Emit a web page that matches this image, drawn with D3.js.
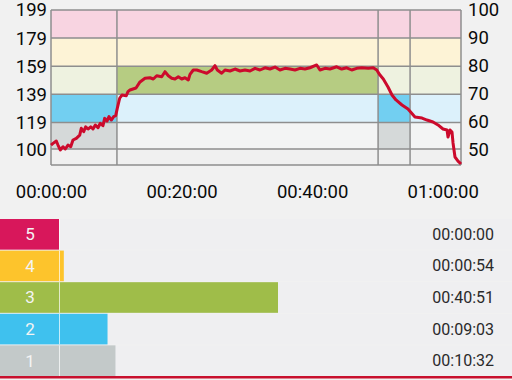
<!DOCTYPE html>
<html><head><meta charset="utf-8">
<script src="https://cdn.jsdelivr.net/npm/d3@7"></script>
<style>html,body{margin:0;padding:0;background:#f1f1f1;}svg{display:block;font-family:Roboto,sans-serif;}</style>
</head><body><svg id="c" width="512" height="380"></svg>
<script>
// Heart rate series: minutes and bpm
const hrTime = [0,0.31,0.81,1.07,1.42,1.84,2.19,2.6,3.02,3.37,3.88,4.4,4.64,5.01,5.31,5.67,6.08,6.43,6.79,7.2,7.55,7.96,8.22,8.58,8.88,9.24,9.6,9.91,10.15,10.52,10.87,11.53,11.79,12.1,13.02,13.63,14.4,15.16,15.67,16.19,16.96,17.46,17.97,18.49,18.99,19.5,20.02,20.52,21.03,21.29,21.79,22.32,23.08,23.85,24.61,25.12,25.47,26.14,26.65,27.42,28.18,28.95,29.71,30.48,31.25,32.01,32.78,33.54,34.31,35.07,35.84,36.61,37.37,38.14,38.9,39.67,40.7,41.2,41.97,42.73,43.76,44.52,45.29,46.06,46.82,47.59,48.6,49.36,49.89,50.39,50.9,51.62,52.23,52.84,53.76,54.68,55.75,56.83,57.59,58.51,59.28,60.04,60.66,60.81,61.12,61.42,61.58,61.88,62.34,62.8];
const hrValue = [102.9,104.1,105.8,102.9,99.4,101.7,100.1,102.9,101.7,106.5,107.7,110.0,114.8,112.4,115.9,114.3,115.9,114.3,117.2,115.2,118.4,116.7,121.9,120.0,123.1,120.7,123.1,123.8,129.0,136.2,138.5,138.0,140.9,142.1,143.5,147.8,150.4,150.8,149.9,152.2,151.5,155.1,152.2,150.4,149.9,151.5,149.9,150.8,149.2,153.2,156.3,156.3,155.1,154.0,156.3,159.4,156.3,154.0,156.3,155.6,157.0,155.6,156.3,155.6,157.5,156.3,157.9,157.0,158.4,156.3,157.5,157.0,156.3,157.5,157.0,157.9,159.9,156.3,157.5,157.0,158.6,157.0,157.9,156.3,157.5,157.9,157.5,157.9,156.3,152.7,149.9,144.2,138.5,135.0,131.4,128.5,122.9,122.1,120.7,119.3,117.2,114.3,113.6,108.6,113.6,112.2,104.4,94.4,91.5,89.4];

// Zone boundaries (bpm) and tick labels
const zoneBounds = [88.7,100,119,139,159,179,199];
const leftTicks = [100,119,139,159,179,199];
const rightTicks = [50,60,70,80,90,100];
const maxHR = 199;
// Segment (lap) boundaries in minutes
const segBounds = [0,10.1,50.1,55.0,62.8];
// highlighted zones per segment (zone index 1..5)
const segZones = [[1,2],[3],[1,2],[]];
const xTicks = [0,20,40,60];

// Zone summary
const zoneNames = ["5","4","3","2","1"];
const zoneSeconds = [0,54,2451,543,632];
const zoneLabels = ["00:00:00","00:00:54","00:40:51","00:09:03","00:10:32"];

const lightCol = ["#f0f0f0","#f3f4f4","#dcf1fb","#eef2e0","#fdf3d6","#f8d4e1"];
const strongCol = ["#f0f0f0","#d5d9d9","#72cff1","#b6cc82","#fcc42d","#d81b5c"];
const barCol = {"5":"#d8175b","4":"#fdc42c","3":"#9fbd49","2":"#3fc1ee","1":"#c3c9c9"};

const svg = d3.select("#c");
const x = d3.scaleLinear().domain([0,62.8]).range([51,461]);
const y = d3.scaleLinear().domain([88.7,199]).range([165,10]);
const yPct = d3.scaleLinear().domain([88.7/maxHR*100,100]).range([165,10]);

// zone cells
const cells = [];
for (let s=0;s<segBounds.length-1;s++){
  for (let z=0;z<zoneBounds.length-1;z++){
    cells.push({s,z,on:segZones[s].includes(z)});
  }
}
svg.append("g").selectAll("rect").data(cells).join("rect")
  .attr("x",d=>x(segBounds[d.s])).attr("width",d=>x(segBounds[d.s+1])-x(segBounds[d.s]))
  .attr("y",d=>y(zoneBounds[d.z+1])).attr("height",d=>y(zoneBounds[d.z])-y(zoneBounds[d.z+1]))
  .attr("fill",d=>d.on?strongCol[d.z]:lightCol[d.z]);

// grid
const grid = svg.append("g").attr("stroke","#8e8e8e").attr("stroke-width",1.5);
grid.selectAll(".h").data(zoneBounds).join("line")
  .attr("x1",x(0)).attr("x2",x(62.8)).attr("y1",d=>y(d)).attr("y2",d=>y(d));
grid.selectAll(".v").data(segBounds).join("line")
  .attr("y1",y(199)).attr("y2",y(88.7)).attr("x1",d=>x(d)).attr("x2",d=>x(d));

// HR line
const pts = hrTime.map((t,i)=>[t,hrValue[i]]);
svg.append("path").datum(pts)
  .attr("d",d3.line().x(d=>x(d[0])).y(d=>y(d[1])))
  .attr("fill","none").attr("stroke","#cc0a2c").attr("stroke-width",3).attr("stroke-linejoin","round");

// axes
const fmt = m => { const h=Math.floor(m/60), mm=m%60; return String(h).padStart(2,"0")+":"+String(mm).padStart(2,"0")+":00"; };
const ax = svg.append("g").attr("transform","translate(0,178)")
  .call(d3.axisBottom(x).tickValues(xTicks).tickFormat(fmt).tickSize(0));
ax.select(".domain").remove();
ax.selectAll("text").attr("font-size",18.5).attr("fill","#0a0a0a").attr("font-family","Roboto").attr("dy","0.9em");

const al = svg.append("g").attr("transform","translate(51,0)")
  .call(d3.axisLeft(y).tickValues(leftTicks).tickSize(0).tickPadding(4));
al.select(".domain").remove();
al.selectAll("text").attr("font-size",18.5).attr("fill","#0a0a0a").attr("font-family","Roboto");

const ar = svg.append("g").attr("transform","translate(461,0)")
  .call(d3.axisRight(yPct).tickValues(rightTicks).tickSize(0).tickPadding(7));
ar.select(".domain").remove();
ar.selectAll("text").attr("font-size",18.5).attr("fill","#0a0a0a").attr("font-family","Roboto");

// zone summary bars
const rowY = d3.scaleBand().domain(zoneNames).range([219,376]).paddingInner(0.03);
const bx = d3.scaleLinear().domain([0,d3.max(zoneSeconds)]).range([59,278]);
const rows = svg.append("g").selectAll("g").data(zoneNames).join("g")
  .attr("transform",d=>`translate(0,${rowY(d)})`);
rows.append("rect").attr("x",0).attr("width",512).attr("height",rowY.bandwidth()).attr("fill","#efeff1");
rows.append("rect").attr("x",0).attr("width",(d,i)=>bx(zoneSeconds[i])).attr("height",rowY.bandwidth()).attr("fill",d=>barCol[d]);
rows.append("line").attr("x1",59.5).attr("x2",59.5).attr("y1",0).attr("y2",rowY.bandwidth()).attr("stroke","#ffffff").attr("stroke-opacity",0.7);
rows.append("text").attr("x",30).attr("y",rowY.bandwidth()/2).attr("dy","0.35em").attr("text-anchor","middle")
  .attr("font-size",17).attr("fill","#f4f4f4").text(d=>d);
rows.append("text").attr("x",494).attr("y",rowY.bandwidth()/2).attr("dy","0.35em").attr("text-anchor","end")
  .attr("font-size",16).attr("fill","#2a2a2a").text((d,i)=>zoneLabels[i]);

svg.append("rect").attr("x",0).attr("y",376).attr("width",512).attr("height",2.5).attr("fill","#c8102e");
</script></body></html>
